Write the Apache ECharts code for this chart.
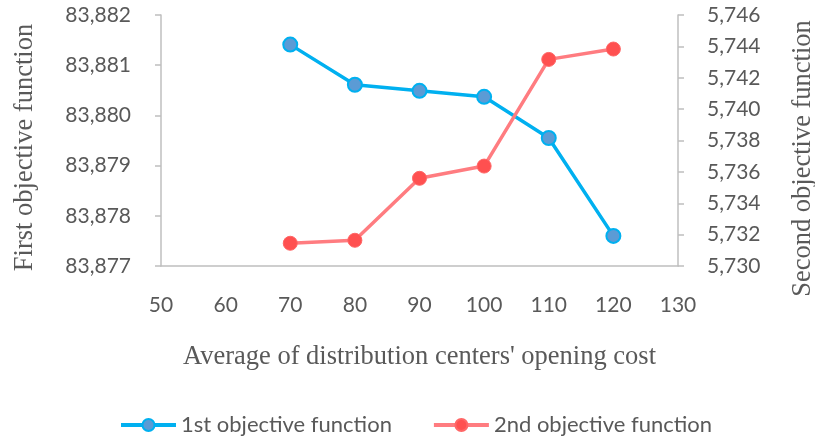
<!DOCTYPE html>
<html>
<head>
<meta charset="utf-8">
<script src="https://cdn.jsdelivr.net/npm/echarts@6/dist/echarts.min.js"></script>
<style>html,body{margin:0;padding:0;background:#fff}#c{width:815px;height:440px}</style>
</head>
<body>
<div id="c"></div>
<script>
var costs = [70, 80, 90, 100, 110, 120];
var firstObjective = [83881.41, 83880.61, 83880.49, 83880.37, 83879.55, 83877.60];
var secondObjective = [5731.45, 5731.64, 5735.59, 5736.37, 5743.17, 5743.83];
var seriesNames = ['1st objective function', '2nd objective function'];
var xTitle = "Average of distribution centers' opening cost";
var yLeftTitle = 'First objective function';
var yRightTitle = 'Second objective function';

function pairs(xs, ys) { return xs.map(function (x, i) { return [x, ys[i]]; }); }
function commas(v) { return String(v).replace(/\B(?=(\d{3})+(?!\d))/g, ','); }

var labelStyle = { color: '#595959', fontFamily: 'Lato', fontSize: 21 };
function titleStyle(pad) {
  return { color: '#595959', fontFamily: 'Liberation Serif', fontSize: 26.5, padding: pad };
}
var axisLine = { show: true, lineStyle: { color: '#bfbfbf', width: 1.5 } };

var chart = echarts.init(document.getElementById('c'), null, { renderer: 'canvas' });
chart.setOption({
  animation: false,
  backgroundColor: '#fff',
  grid: { left: 161, right: 137, top: 15, bottom: 174, containLabel: false, outerBoundsMode: 'none' },
  legend: {
    bottom: -1,
    left: 114,
    itemWidth: 55,
    itemHeight: 15,
    itemGap: 40,
    lineStyle: { width: 4 },
    textStyle: { color: '#595959', fontFamily: 'Lato', fontSize: 22 },
    data: seriesNames
  },
  xAxis: {
    type: 'value', min: 50, max: 130, interval: 10,
    name: xTitle, nameLocation: 'middle', nameGap: 78, nameTextStyle: titleStyle([0, 0, 0, 0]),
    axisLine: axisLine, axisTick: { show: false }, splitLine: { show: false },
    axisLabel: Object.assign({ margin: 29 }, labelStyle)
  },
  yAxis: [{
    type: 'value', min: 83877, max: 83882, interval: 1, position: 'left',
    name: yLeftTitle, nameLocation: 'middle', nameRotate: 90, nameGap: 122,
    nameTextStyle: titleStyle([0, 14, 0, 0]),
    axisLine: axisLine, axisTick: { show: true, length: 6, lineStyle: { color: '#bfbfbf', width: 1.5 } },
    splitLine: { show: false },
    axisLabel: Object.assign({ margin: 30, formatter: commas }, labelStyle)
  }, {
    type: 'value', min: 5730, max: 5746, interval: 2, position: 'right',
    name: yRightTitle, nameLocation: 'middle', nameRotate: 90, nameGap: 112,
    nameTextStyle: titleStyle([0, 36, 0, 0]),
    axisLine: axisLine, axisTick: { show: true, length: 6, lineStyle: { color: '#bfbfbf', width: 1.5 } },
    splitLine: { show: false },
    axisLabel: Object.assign({ margin: 29, formatter: commas }, labelStyle)
  }],
  series: [{
    name: seriesNames[0], type: 'line', yAxisIndex: 0,
    data: pairs(costs, firstObjective),
    symbol: 'circle', symbolSize: 14,
    lineStyle: { color: '#00B0F0', width: 3.5 },
    itemStyle: { color: '#5B9BD5', borderColor: '#00B0F0', borderWidth: 2 }
  }, {
    name: seriesNames[1], type: 'line', yAxisIndex: 1,
    data: pairs(costs, secondObjective),
    symbol: 'circle', symbolSize: 14,
    lineStyle: { color: '#FF7C80', width: 3.5 },
    itemStyle: { color: '#FF5050', borderColor: '#FF6666', borderWidth: 1 }
  }]
});
</script>
</body>
</html>
